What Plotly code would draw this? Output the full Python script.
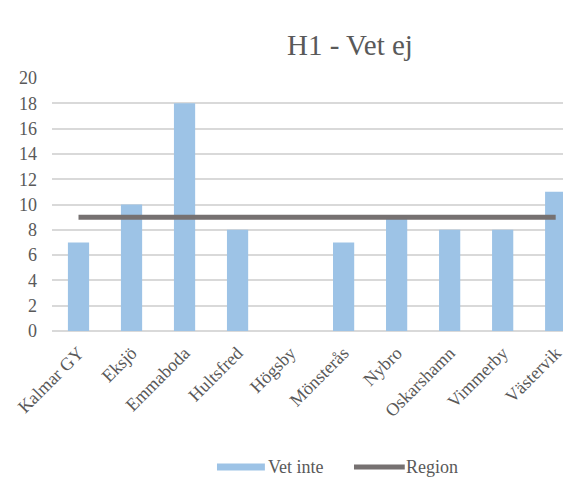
import plotly.graph_objects as go

categories = ["Kalmar GY", "Eksjö", "Emmaboda", "Hultsfred", "Högsby",
              "Mönsterås", "Nybro", "Oskarshamn", "Vimmerby", "Västervik"]
vet_inte = [7, 10, 18, 8, 0, 7, 9, 8, 8, 11]
region = [9, 9, 9, 9, 9, 9, 9, 9, 9, 9]
y_ticks = [0, 2, 4, 6, 8, 10, 12, 14, 16, 18, 20]

FONT = "Liberation Serif, Times New Roman, serif"
BAR_COLOR = "#9DC3E6"
LINE_COLOR = "#767171"
TXT = "#595959"

fig = go.Figure()
fig.add_trace(go.Bar(x=categories, y=vet_inte, name="Vet inte",
                     marker=dict(color=BAR_COLOR, line=dict(width=0)),
                     width=0.4))
fig.add_trace(go.Scatter(x=categories, y=region, name="Region", mode="lines",
                         line=dict(color=LINE_COLOR, width=5)))

fig.update_layout(
    width=563, height=471,
    margin=dict(l=44, r=1, t=70, b=148),
    paper_bgcolor="white", plot_bgcolor="white",
    showlegend=False,
    font=dict(family=FONT, size=18, color=TXT),
    xaxis=dict(type="category", tickangle=-45, showgrid=False, automargin=False,
               range=[-0.5, 9.27], ticklabelstandoff=7,
               showline=False, ticks="", tickfont=dict(family=FONT, size=18, color=TXT)),
    yaxis=dict(range=[0, 20], tickvals=y_ticks, showgrid=True, automargin=False,
               gridcolor="#D9D9D9", gridwidth=1.5, zeroline=True,
               zerolinecolor="#D9D9D9", zerolinewidth=1.5,
               showline=False, ticks="", ticklabelstandoff=14,
               tickfont=dict(family=FONT, size=18, color=TXT)),
    bargap=0.6,
)

# Title
fig.add_annotation(text="H1 - Vet ej", xref="paper", yref="paper",
                   x=0.575, y=1.13, xanchor="center", yanchor="middle",
                   showarrow=False,
                   font=dict(family=FONT, size=29, color=TXT))

# Legend (manual, Excel style)
ly = -0.5375
fig.add_shape(type="rect", xref="paper", yref="paper",
              x0=0.3185, x1=0.411, y0=ly - 0.014, y1=ly + 0.014,
              fillcolor=BAR_COLOR, line=dict(width=0))
fig.add_annotation(text="Vet inte", xref="paper", yref="paper",
                   x=0.413, y=ly, xanchor="left", yanchor="middle",
                   showarrow=False,
                   font=dict(family=FONT, size=18, color=TXT))
fig.add_shape(type="line", xref="paper", yref="paper",
              x0=0.583, x1=0.681, y0=ly, y1=ly,
              line=dict(color=LINE_COLOR, width=5))
fig.add_annotation(text="Region", xref="paper", yref="paper",
                   x=0.679, y=ly, xanchor="left", yanchor="middle",
                   showarrow=False,
                   font=dict(family=FONT, size=18, color=TXT))

fig.write_html("out.html")
